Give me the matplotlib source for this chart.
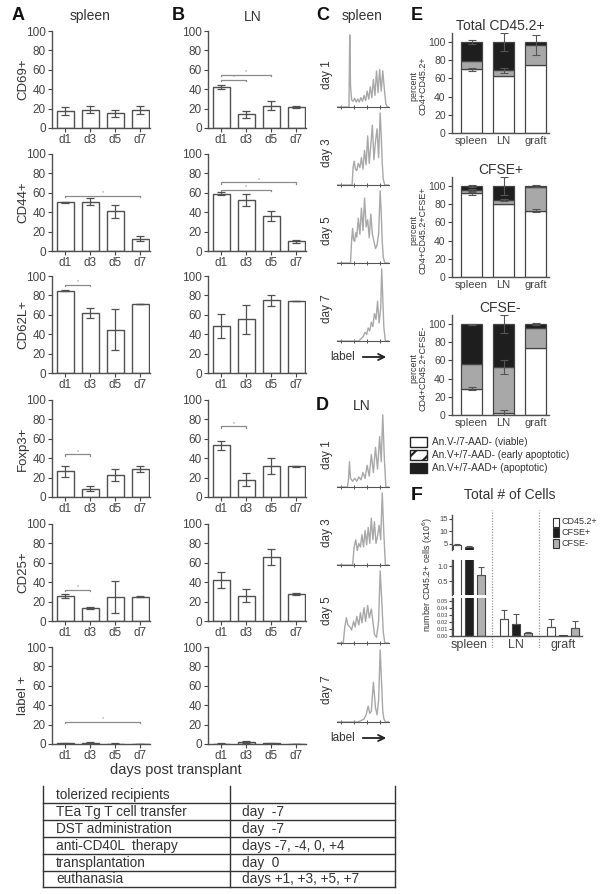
import numpy as np
import matplotlib
matplotlib.use("Agg")
import matplotlib.pyplot as plt
from matplotlib.patches import Rectangle

plt.rcParams['font.family'] = ['Liberation Sans', 'DejaVu Sans']
plt.rcParams['hatch.linewidth'] = 1.6
plt.rcParams['text.color'] = '#333333'
plt.rcParams['xtick.color'] = '#444444'
plt.rcParams['ytick.color'] = '#444444'

W, H = 603, 894
EDGE = '#505050'

# ---- panels A / B: % positive per day ----
days = ['d1', 'd3', 'd5', 'd7']
markers = ['CD69+', 'CD44+', 'CD62L+', 'Foxp3+', 'CD25+', 'label +']

spleen_means = [[17.5, 19, 15, 18.5],
                [50.5, 51, 41, 12.5],
                [85, 61.5, 44.7, 71],
                [26.4, 8.5, 23, 28.8],
                [26, 13, 25, 25],
                [0.6, 1.5, 0.5, 0.2]]
spleen_errs = [[4, 4, 3.5, 4],
               [0.5, 3.5, 6.5, 2.7],
               [0.7, 5, 21, 0],
               [5.8, 2.7, 6, 3.4],
               [2, 1, 16.3, 0.3],
               [0.3, 0.8, 0.3, 0.1]]
ln_means = [[42, 14, 23, 21.7],
            [59, 52.5, 36, 10],
            [48.7, 55.5, 75, 74.3],
            [53.5, 18, 32, 31.5],
            [42.5, 26, 66, 28],
            [0.5, 1.8, 0.7, 0.2]]
ln_errs = [[2, 3.5, 4.5, 0.7],
           [1.5, 6, 5.5, 1.5],
           [12.6, 15, 5.5, 0],
           [4.7, 7, 8.3, 0.7],
           [8, 6.6, 8, 1],
           [0.3, 0.8, 0.3, 0.1]]
# significance brackets: (from, to, height)
spleen_sig = [[], [(0, 3, 57)], [(0, 1, 91)], [(0, 1, 44)], [(0, 1, 32)], [(0, 3, 23)]]
ln_sig = [[(0, 1, 50), (0, 2, 55)], [(0, 2, 63), (0, 3, 71)], [], [(0, 1, 73)], [], []]

# ---- panels C / D: label dilution histograms (x in % of range, y in % of max) ----
hist_days = ['day 1', 'day 3', 'day 5', 'day 7']
spleen_hist_x = [
    [0, 23, 24.5, 26, 28, 31, 34, 37, 40, 43, 46, 49, 52, 55, 58, 61, 64, 67, 70, 73, 76, 79, 82, 85, 88, 91, 94, 97, 100],
    [0, 29, 31, 33, 35.5, 38, 41, 44, 47, 50, 53, 56, 59, 62, 65, 68, 71, 74, 77, 80, 83, 85, 87, 89, 92, 100],
    [0, 26, 28, 30, 32, 34, 36, 38, 41, 44, 47, 50, 53, 56, 59, 62, 65, 68, 71, 74, 77, 80, 83, 85, 87, 89, 92, 100],
    [0, 42, 46, 50, 54, 57, 60, 63, 66, 69, 72, 75, 78, 81, 84, 86, 88, 90, 93, 100]]
spleen_hist_y = [
    [0, 0, 100, 30, 10, 8, 12, 7, 11, 7, 13, 8, 16, 9, 22, 11, 28, 13, 38, 16, 50, 20, 52, 22, 50, 25, 4, 0, 0],
    [0, 0, 25, 33, 22, 20, 30, 24, 38, 22, 48, 28, 68, 30, 55, 83, 35, 60, 78, 38, 100, 70, 30, 8, 0, 0],
    [0, 0, 30, 48, 32, 30, 42, 36, 62, 40, 76, 45, 90, 50, 60, 35, 68, 40, 30, 20, 25, 40, 100, 70, 30, 8, 0, 0],
    [0, 0, 3, 6, 12, 9, 18, 14, 26, 20, 38, 30, 55, 25, 45, 100, 60, 20, 0, 0]]
ln_hist_x = [
    [0, 20, 22, 24, 26, 30, 34, 38, 42, 46, 50, 54, 58, 62, 66, 70, 74, 78, 82, 85, 88, 91, 94, 100],
    [0, 30, 33, 36, 39, 42, 45, 48, 51, 54, 57, 60, 63, 66, 69, 72, 75, 78, 81, 84, 87, 90, 93, 100],
    [0, 12, 15, 18, 21, 25, 28, 32, 35, 38, 42, 45, 48, 52, 55, 59, 62, 66, 69, 72, 76, 80, 83, 86, 89, 92, 100],
    [0, 40, 46, 52, 56, 60, 63, 66, 70, 74, 77, 80, 83, 86, 88, 90, 93, 100]]
ln_hist_y = [
    [0, 0, 10, 35, 12, 8, 12, 8, 14, 10, 20, 12, 30, 15, 45, 20, 55, 25, 70, 35, 100, 40, 0, 0],
    [0, 0, 25, 35, 20, 30, 25, 42, 25, 48, 28, 52, 30, 65, 35, 60, 30, 40, 55, 35, 100, 45, 0, 0],
    [0, 0, 22, 35, 25, 22, 18, 30, 22, 37, 25, 42, 28, 49, 30, 52, 35, 47, 30, 12, 8, 30, 100, 60, 15, 0, 0],
    [0, 0, 2, 4, 10, 22, 12, 15, 55, 20, 10, 30, 100, 50, 15, 5, 0, 0]]

# ---- panel E: apoptosis status (stacked %) ----
sites = ['spleen', 'LN', 'graft']
e_titles = ['Total CD45.2+', 'CFSE+', 'CFSE-']
e_ylabels = ['percent\nCD4+CD45.2+', 'percent\nCD4+CD45.2+CFSE+', 'percent\nCD4+CD45.2+CFSE-']
viable = [[70, 63, 75], [92, 80, 73], [29, 2, 74]]
early = [[9, 6, 22], [4, 5, 26.5], [27, 51, 22]]
apoptotic = [[21, 31, 3], [4, 15, 0.5], [44, 47, 4]]
err_viable = [[1.5, 0, 0], [1.5, 0, 1.5], [2, 3, 0]]
err_early = [[0, 3, 11], [1, 1, 0], [0, 8, 0]]
err_top = [[2, 10, 0], [1, 10, 1.5], [0.5, 10, 1]]
e_legend = ['An.V-/7-AAD- (viable)', 'An.V+/7-AAD- (early apoptotic)', 'An.V+/7-AAD+ (apoptotic)']

# ---- panel F: total cell numbers (x10^6) ----
f_series = ['CD45.2+', 'CFSE+', 'CFSE-']
f_cd45 = [4.5, 0.025, 0.0125]
f_cd45_err = [0.5, 0.0125, 0.0125]
f_cfsep = [3.8, 0.018, 0.001]
f_cfsep_err = [0.3, 0.014, 0.0]
f_cfsen = [0.72, 0.004, 0.011]
f_cfsen_err = [0.25, 0.002, 0.01]

# ---- schedule table ----
table_left = ['tolerized recipients', 'TEa Tg T cell transfer', 'DST administration',
              'anti-CD40L  therapy', 'transplantation', 'euthanasia']
table_right = ['', 'day  -7', 'day  -7', 'days -7, -4, 0, +4', 'day  0', 'days +1, +3, +5, +7']

fig = plt.figure(figsize=(W / 100, H / 100), dpi=100)


def px_axes(x0, y0, x1, y1):
    a = fig.add_axes([x0 / W, 1 - y1 / H, (x1 - x0) / W, (y1 - y0) / H])
    a.set_facecolor('none')
    return a


ov = px_axes(0, 0, W, H)
ov.set_xlim(0, W)
ov.set_ylim(H, 0)
ov.axis('off')


def style(ax, fs):
    for s in ['top', 'right']:
        ax.spines[s].set_visible(False)
    for s in ['left', 'bottom']:
        ax.spines[s].set_color(EDGE)
        ax.spines[s].set_linewidth(1.0)
    ax.tick_params(labelsize=fs, length=3, width=0.8, pad=1.5, colors='#444444')


# A and B
row_tops = [31, 154, 276, 400, 524, 647]
row_h = 97
for r in range(6):
    for col, (x0, means, errs, sig) in enumerate([(52, spleen_means, spleen_errs, spleen_sig),
                                                   (208, ln_means, ln_errs, ln_sig)]):
        ax = px_axes(x0, row_tops[r], x0 + 98, row_tops[r] + row_h)
        x = np.arange(4)
        ax.bar(x, means[r], width=0.68, color='white', edgecolor=EDGE, linewidth=1.0, zorder=2)
        ax.errorbar(x, means[r], yerr=errs[r], fmt='none', ecolor=EDGE, elinewidth=0.9,
                    capsize=3, capthick=0.9, zorder=3)
        for i, j, h in sig[r]:
            ax.plot([i, i, j, j], [h - 1.5, h, h, h - 1.5], color='#8a8a8a', lw=0.9, clip_on=False)
            ax.text((i + j) / 2, h + 0.5, '*', ha='center', va='bottom', fontsize=4, color='#8a8a8a')
        ax.set_xlim(-0.52, 3.4)
        ax.set_ylim(0, 100)
        ax.set_yticks(range(0, 101, 20))
        ax.set_xticks(x)
        ax.set_xticklabels(days)
        style(ax, 8.5)
        if col == 0:
            ov.text(23, row_tops[r] + row_h / 2, markers[r], rotation=90, ha='center', va='center', fontsize=9.5)

ov.text(12, 15, 'A', fontsize=13, fontweight='bold', va='center', color='#111111')
ov.text(172, 15, 'B', fontsize=13, fontweight='bold', va='center', color='#111111')
ov.text(90, 16, 'spleen', fontsize=10, ha='center', va='center')
ov.text(253, 17, 'LN', fontsize=10, ha='center', va='center')
ov.text(176, 770, 'days post transplant', fontsize=10.5, ha='center', va='center')


# C and D
def hist_column(bases, xs, ys, title_y, title, letter, label_y):
    for k in range(4):
        ax = px_axes(337, bases[k] - 75, 389, bases[k])
        ax.plot(xs[k], ys[k], color='#a8a8a8', lw=1.0)
        ax.set_xlim(0, 100)
        ax.set_ylim(0, 104)
        for s in ['top', 'right', 'left']:
            ax.spines[s].set_visible(False)
        ax.spines['bottom'].set_color('#555555')
        ax.spines['bottom'].set_linewidth(0.8)
        ax.set_yticks([])
        ax.set_xticks([8, 33, 58, 83])
        ax.tick_params(axis='x', direction='inout', length=2.5, width=0.7, labelbottom=False, colors='#555555')
        ov.text(327, bases[k] - 32, hist_days[k], rotation=90, ha='center', va='center', fontsize=8.5)
    ov.text(316, title_y, letter, fontsize=13, fontweight='bold', va='center', color='#111111')
    ov.text(362, title_y + 1, title, fontsize=10, ha='center', va='center')
    ov.text(330, label_y, 'label', fontsize=8.5, va='center', ha='left')
    ov.annotate('', xy=(389, label_y), xytext=(360, label_y),
                arrowprops=dict(arrowstyle='->', color='#222222', lw=1.3, mutation_scale=11))


hist_column([107, 185, 263, 341], spleen_hist_x, spleen_hist_y, 15, 'spleen', 'C', 357)
hist_column([487, 565, 643, 722], ln_hist_x, ln_hist_y, 405, 'LN', 'D', 738)

# E
e_bottoms = [133, 277, 415]
e_colors = ['white', '#a8a8a8', '#1e1e1e']
for p in range(3):
    ax = px_axes(452, e_bottoms[p] - 100, 549, e_bottoms[p])
    x = np.arange(3)
    v = np.array(viable[p])
    e = np.array(early[p])
    a = np.array(apoptotic[p])
    ax.bar(x, v, width=0.65, color=e_colors[0], edgecolor='#444444', lw=0.9, zorder=2)
    ax.bar(x, e, bottom=v, width=0.65, color=e_colors[1], edgecolor='#444444', lw=0.9, zorder=2)
    ax.bar(x, a, bottom=v + e, width=0.65, color=e_colors[2], edgecolor='#444444', lw=0.9, zorder=2)
    for yv, ye in [(v, err_viable[p]), (v + e, err_early[p]), (v + e + a, err_top[p])]:
        ye = np.array(ye)
        m = ye > 0
        ax.errorbar(x[m], yv[m], yerr=ye[m], fmt='none', ecolor='#555555', elinewidth=0.8,
                    capsize=3, capthick=0.8, zorder=3)
    ax.set_xlim(-0.61, 2.42)
    ax.set_ylim(0, 110)
    ax.set_yticks(range(0, 101, 20))
    ax.set_xticks(x)
    ax.set_xticklabels(sites)
    style(ax, 7.5)
    ax.tick_params(axis='x', length=0, pad=2, labelsize=8)
    ax.set_title(e_titles[p], fontsize=10, pad=1, color='#333333')
    ov.text(418, e_bottoms[p] - 47, e_ylabels[p], rotation=90, ha='center', va='center',
            fontsize=6.4, linespacing=1.0)

ov.text(411, 15, 'E', fontsize=13, fontweight='bold', va='center', color='#111111')
for k, lab in enumerate(e_legend):
    yc = 442 + 13 * k
    ov.add_patch(Rectangle((410, yc - 5), 17, 10, facecolor=['white', 'white', '#1e1e1e'][k],
                           edgecolor='#222222', lw=1.0, hatch='//' if k == 1 else None))
    ov.text(432, yc, lab, fontsize=7.2, va='center')

# F: broken y axis with three segments
segments = [(515, 550, 2.5, 16.5, [5, 10, 15], ['5', '10', '15'], 5.5),
            (560, 595, 0.05, 1.2, [0.5, 1.0], ['0.5', '1.0'], 5.5),
            (598, 636, 0.0, 0.055, [0, 0.01, 0.02, 0.03, 0.04, 0.05],
             ['0.00', '0.01', '0.02', '0.03', '0.04', '0.05'], 4.2)]
f_colors = ['white', '#1e1e1e', '#b0b0b0']
f_vals = [f_cd45, f_cfsep, f_cfsen]
f_errs = [f_cd45_err, f_cfsep_err, f_cfsen_err]
offsets = [-0.255, 0.0, 0.255]

bg = px_axes(452, 510, 582, 648)
bg.set_xlim(-0.36, 2.41)
bg.axis('off')
for xs in [0.5, 1.5]:
    bg.axvline(xs, color='#9a9a9a', lw=0.9, ls=(0, (1, 1.2)))

for si, (y0, y1, lo, hi, ticks, tlabels, tfs) in enumerate(segments):
    ax = px_axes(452, y0, 582, y1)
    for k in range(3):
        xk = np.arange(3) + offsets[k]
        ax.bar(xk, f_vals[k], width=0.17, color=f_colors[k], edgecolor='#444444', lw=0.8, zorder=2)
        vals = np.array(f_vals[k])
        errs = np.array(f_errs[k])
        m = (vals > lo) & (vals <= hi) & (errs > 0)
        ax.errorbar(xk[m], vals[m], yerr=[np.zeros(m.sum()), errs[m]], fmt='none', ecolor='#555555',
                    elinewidth=0.8, capsize=2, capthick=0.8, zorder=3)
    ax.set_xlim(-0.36, 2.41)
    ax.set_ylim(lo, hi)
    ax.set_yticks(ticks)
    ax.set_yticklabels(tlabels)
    style(ax, tfs)
    ax.tick_params(axis='y', length=2, pad=1)
    if si < 2:
        ax.spines['bottom'].set_visible(False)
        ax.set_xticks([])
    else:
        ax.set_xticks(range(3))
        ax.set_xticklabels(sites)
        ax.tick_params(axis='x', length=0, labelsize=9, pad=2)

ov.text(411, 495, 'F', fontsize=14, fontweight='bold', va='center', color='#111111')
ov.text(510, 495, 'Total # of Cells', fontsize=10, ha='center', va='center')
ov.text(428, 575, r'number CD45.2+ cells (x10$^{6}$)', rotation=90, ha='center', va='center', fontsize=6.3)
for k, lab in enumerate(f_series):
    yc = 522 + 10.5 * k
    ov.add_patch(Rectangle((553, yc - 4.5), 6, 9, facecolor=f_colors[k], edgecolor='#333333', lw=0.8))
    ov.text(562, yc, lab, fontsize=6.5, va='center')

# table
row_lines = [803, 820, 837, 854, 871, 887]
for yl in row_lines:
    ov.plot([43, 395], [yl, yl], color='#333333', lw=1.0)
for xl in [43, 230, 395]:
    ov.plot([xl, xl], [786, 887], color='#333333', lw=1.0)
row_centers = [795, 812, 829, 846, 863, 879]
for k in range(6):
    ov.text(56, row_centers[k], table_left[k], fontsize=9.8, va='center')
    ov.text(242, row_centers[k], table_right[k], fontsize=9.8, va='center')

fig.savefig('out.png', dpi=100)
